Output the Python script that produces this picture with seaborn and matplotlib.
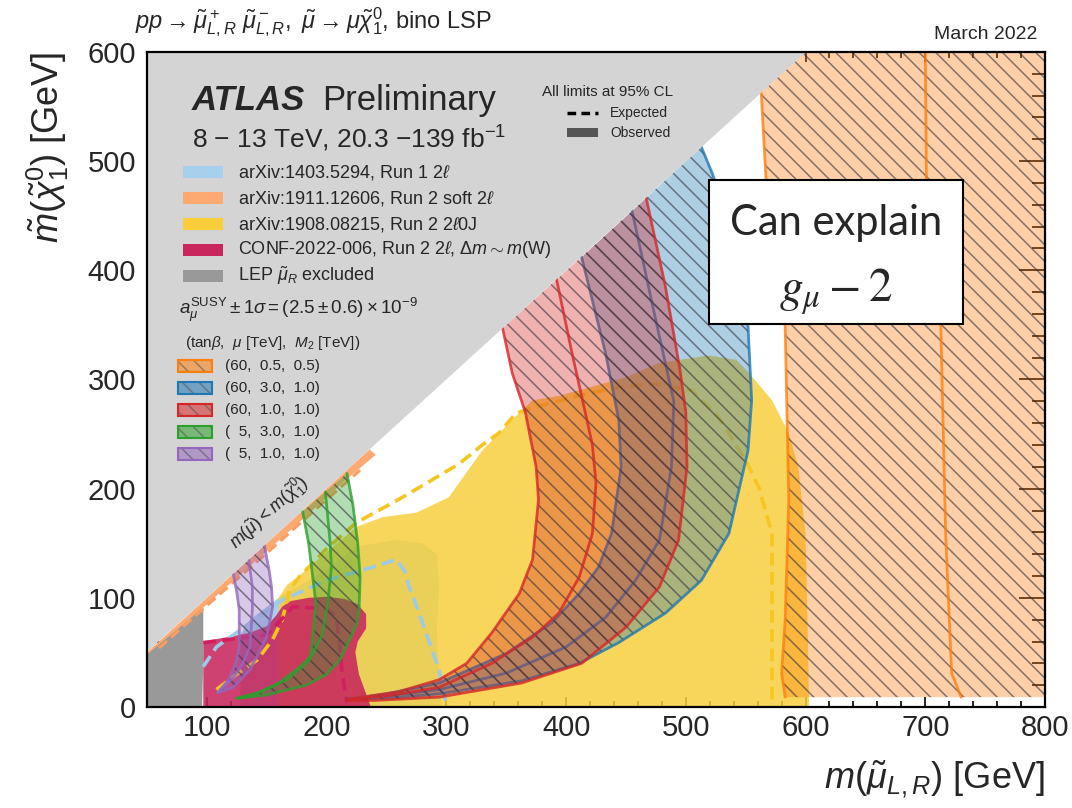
import matplotlib
matplotlib.use("Agg")
import matplotlib.pyplot as plt
import seaborn as sns
import pandas as pd
from matplotlib.patches import Rectangle
from matplotlib.lines import Line2D
from matplotlib.ticker import MultipleLocator

# contours in (m(smuon), m(neutralino)) GeV
diag = [(50, 50), (50, 600), (600, 600)]

lep_obs = [(50, 0), (50, 48), (97, 91), (97, 40), (96, 0)]

run1_obs = [(128, 0), (128, 66), (136, 80), (160, 100), (180, 113), (200, 126),
            (225, 147), (258, 153), (280, 150), (292, 140), (294, 110), (292, 70), (294, 30), (296, 0)]
run1_exp = [(97, 37), (108, 55), (136, 77), (163, 98), (200, 116), (238, 128), (258, 135),
            (265, 125), (269, 110), (276, 90), (283, 68), (294, 34), (297, 13), (300, 4)]

soft_obs = [(50, 50), (236, 236), (241, 231), (215, 207), (180, 172), (140, 133), (100, 94), (50, 45)]
soft_exp = [(60, 54), (100, 93), (150, 141), (200, 190), (228, 217)]

zl_obs = [(160, 0), (160, 100), (167, 112), (177, 120), (200, 142), (225, 165), (247, 174),
          (275, 178), (302, 192), (330, 235), (355, 263), (372, 281), (394, 285), (450, 302),
          (477, 315), (519, 322), (542, 318), (552, 307), (572, 281), (586, 251), (594, 220),
          (600, 159), (602, 60), (603, 0)]
zl_exp = [(108, 16), (125, 30), (142, 43), (155, 62), (163, 80), (169, 107), (177, 119),
          (200, 145), (225, 169), (260, 190), (288, 208), (311, 223), (330, 240), (344, 251),
          (358, 269), (372, 274), (410, 285), (444, 293), (475, 296), (505, 290), (527, 266),
          (550, 226), (561, 201), (572, 159), (572, 0)]

conf_obs = [(97, 0), (97, 60), (117, 64), (136, 68), (150, 74), (158, 84), (163, 92), (170, 97),
            (185, 100), (200, 101), (215, 99), (226, 94), (233, 85), (233, 72), (226, 60),
            (224, 50), (227, 30), (232, 15), (237, 0)]
conf_exp = [(97, 59), (127, 63), (150, 66), (163, 81), (172, 92), (200, 90), (208, 83),
            (211, 55), (213, 31), (217, 4)]

# g-2 favoured bands: inner edge, central value, outer edge
orange_lo = [(563, 563), (567, 483), (576, 410), (583, 348), (586, 190), (583, 80), (580, 31), (583, 9)]
orange_mid = [(700, 600), (701, 483), (713, 348), (717, 159), (722, 31), (730, 9)]
orange_hi = [(830, 9), (830, 600), (600, 600)]

blue_lo = [(413, 412), (433, 324), (444, 263), (446, 220), (438, 159), (427, 128), (411, 104),
           (388, 77), (350, 49), (294, 22), (250, 12), (217, 7)]
blue_mid = [(455, 455), (475, 354), (490, 280), (488, 220), (478, 153), (458, 116), (433, 82),
            (400, 55), (350, 31), (294, 16), (250, 10), (217, 7)]
blue_hi = [(513, 513), (522, 489), (535, 450), (545, 400), (552, 348), (555, 281), (552, 235),
           (536, 159), (513, 116), (483, 86), (444, 59), (411, 40), (363, 24), (294, 12),
           (250, 8), (217, 7)]

red_lo = [(347, 347), (355, 306), (366, 270), (375, 220), (377, 190), (372, 135), (361, 104),
          (338, 68), (317, 40), (294, 25), (260, 14), (217, 7)]
red_mid = [(392, 392), (405, 324), (416, 270), (422, 240), (425, 205), (422, 159), (411, 119),
           (394, 86), (372, 64), (338, 40), (294, 18), (250, 10), (217, 7)]
red_hi = [(467, 466), (483, 385), (495, 310), (500, 270), (501, 220), (494, 153), (478, 110),
          (450, 73), (413, 40), (363, 22), (294, 9), (240, 6), (217, 6)]

green_lo = [(180, 179), (185, 150), (188, 123), (191, 95), (188, 60), (186, 43), (167, 25),
            (145, 14), (125, 8)]
green_mid = [(199, 197), (203, 150), (204, 128), (201, 95), (196, 65), (188, 48), (178, 37),
             (160, 22), (137, 10), (125, 8)]
green_hi = [(217, 214), (222, 185), (226, 150), (228, 119), (227, 86), (225, 75), (211, 43),
            (200, 30), (183, 20), (150, 11), (125, 8)]

purple_lo = [(122, 122), (125, 105), (127, 89), (127, 55), (124, 40), (118, 25), (109, 13)]
purple_mid = [(135, 135), (138, 110), (138, 89), (136, 55), (130, 40), (122, 27), (109, 13)]
purple_hi = [(148, 148), (152, 125), (154, 110), (155, 92), (150, 64), (136, 34), (122, 18), (109, 13)]

obs_labels = ["arXiv:1403.5294, Run 1 2$\\ell$",
              "arXiv:1911.12606, Run 2 soft 2$\\ell$",
              "arXiv:1908.08215, Run 2 2$\\ell$0J",
              "CONF-2022-006, Run 2 2$\\ell$, $\\Delta m \\sim m$(W)",
              "LEP $\\tilde{\\mu}_R$ excluded"]
obs_colors = ["#a7d0ec", "#fca972", "#fcce3a", "#c8265c", "#999999"]

band_labels = ["(60,  0.5,  0.5)", "(60,  3.0,  1.0)", "(60,  1.0,  1.0)",
               "(  5,  3.0,  1.0)", "(  5,  1.0,  1.0)"]
band_colors = ["#ff7f0e", "#1f77b4", "#d62728", "#2ca02c", "#9467bd"]

W, H = 1072, 808


def fxy(px, py):
    return px / W, 1 - py / H


def area(ax, pts, color, alpha, z):
    xs, ys = zip(*pts)
    ax.fill(xs, ys, facecolor=color, edgecolor="none", alpha=alpha, zorder=z)


def line(ax, pts, color, lw, ls="-", alpha=1.0, z=4):
    df = pd.DataFrame(pts, columns=["x", "y"])
    sns.lineplot(data=df, x="x", y="y", sort=False, estimator=None, color=color,
                 linewidth=lw, linestyle=ls, alpha=alpha, ax=ax, zorder=z)


def band(ax, poly, lines, color, z):
    xs, ys = zip(*poly)
    ax.fill(xs, ys, facecolor=color, edgecolor="none", alpha=0.36, zorder=z)
    ax.fill(xs, ys, facecolor="none", edgecolor=(0.2, 0.2, 0.25, 0.6), hatch="\\\\",
            linewidth=0, zorder=z + 0.1)
    for pts in lines:
        line(ax, pts, color, 2.0, alpha=0.8, z=z + 0.2)


sns.set_theme(style="ticks")
plt.rcParams["font.family"] = ["Liberation Sans", "DejaVu Sans"]
plt.rcParams["mathtext.fontset"] = "custom"
plt.rcParams["mathtext.rm"] = "Liberation Sans"
plt.rcParams["mathtext.it"] = "Liberation Sans:italic"
plt.rcParams["mathtext.bf"] = "Liberation Sans:bold"
plt.rcParams["mathtext.sf"] = "Liberation Sans"
plt.rcParams["hatch.linewidth"] = 1.1

fig = plt.figure(figsize=(W / 100, H / 100), dpi=100)
ax = fig.add_axes([147 / W, 1 - 707 / H, 898 / W, 655 / H])

# observed limits
area(ax, run1_obs, "#a7d0ec", 1.0, 1)
area(ax, soft_obs, "#fca972", 1.0, 1.5)
area(ax, zl_obs, "#f7cf3e", 0.85, 2)
area(ax, conf_obs, "#c8265c", 0.88, 2.5)
area(ax, lep_obs, "#999999", 1.0, 3)

# expected limits
dash = (0, (3.5, 1.8))
line(ax, run1_exp, "#9ccbe9", 2.6, ls=dash)
line(ax, soft_exp, "#fc9d60", 2.2, ls=dash)
line(ax, zl_exp, "#f7c520", 2.6, ls=dash)
line(ax, conf_exp, "#d11f62", 2.6, ls=dash)

# g-2 bands
band(ax, orange_lo + orange_hi, [orange_lo, orange_mid], band_colors[0], 5)
band(ax, blue_lo + blue_hi[::-1], [blue_lo, blue_mid, blue_hi], band_colors[1], 5.3)
band(ax, red_lo + red_hi[::-1], [red_lo, red_mid, red_hi], band_colors[2], 5.6)
band(ax, green_lo + green_hi[::-1], [green_lo, green_mid, green_hi], band_colors[3], 5.9)
band(ax, purple_lo + purple_hi[::-1], [purple_lo, purple_mid, purple_hi], band_colors[4], 6.2)

# kinematically forbidden region
area(ax, diag, "#d4d4d4", 1.0, 9)
ax.text(152, 178, r"$m(\tilde{\mu}) < m(\tilde{\chi}^0_1)$", rotation=42,
        rotation_mode="anchor", ha="center", va="center", fontsize=13, zorder=10)

ax.set_xlim(50, 800)
ax.set_ylim(0, 600)
ax.xaxis.set_major_locator(MultipleLocator(100))
ax.xaxis.set_minor_locator(MultipleLocator(20))
ax.yaxis.set_major_locator(MultipleLocator(100))
ax.yaxis.set_minor_locator(MultipleLocator(20))
ax.tick_params(which="both", direction="in", top=True, right=True, color="black", width=1.2)
ax.tick_params(axis="x", which="major", length=7.5, labelsize=21, pad=5)
ax.tick_params(axis="x", which="minor", length=4)
ax.tick_params(axis="y", which="major", length=19, labelsize=21, pad=8)
ax.tick_params(axis="y", which="minor", length=9.5)
for sp in ax.spines.values():
    sp.set_linewidth(1.6)
    sp.set_color("black")
    sp.set_zorder(20)
ax.set_xlabel(r"$m(\tilde{\mu}_{L,R})$ [GeV]", fontsize=26, loc="right", labelpad=12)
ax.set_ylabel(r"$\tilde{m}(\tilde{\chi}^0_1)$ [GeV]", fontsize=26, loc="top", labelpad=12)

# header texts
fig.text(*fxy(135, 28), r"$pp \rightarrow \tilde{\mu}^+_{L,R}\ \tilde{\mu}^-_{L,R},\ \tilde{\mu} \rightarrow \mu\tilde{\chi}^0_1$, bino LSP",
         fontsize=17, va="baseline")
fig.text(*fxy(1037, 39), "March 2022", fontsize=14, ha="right", va="baseline")

fig.text(*fxy(192, 110), "ATLAS", fontsize=25, fontweight="bold", fontstyle="italic", va="baseline")
fig.text(*fxy(322, 110), "Preliminary", fontsize=25, va="baseline")
fig.text(*fxy(192, 148), r"8 $-$ 13 TeV, 20.3 $-$139 fb$^{-1}$", fontsize=19, va="baseline")

# legend of observed limits
for i, (lab, col) in enumerate(zip(obs_labels, obs_colors)):
    yc = 172 + i * 26
    x0, y0 = fxy(183, yc + 6)
    fig.add_artist(Rectangle((x0, y0), 40 / W, 12 / H, facecolor=col, edgecolor="none",
                             transform=fig.transFigure))
    fig.text(*fxy(238, yc), lab, fontsize=13, va="center")

fig.text(*fxy(179, 310), r"$a_\mu^{\rm SUSY} \pm 1\sigma = (2.5 \pm 0.6) \times 10^{-9}$",
         fontsize=13.5, va="center")
fig.text(*fxy(185, 343), r"(tan$\beta$,  $\mu$ [TeV],  $M_2$ [TeV])", fontsize=11, va="center")

for i, (lab, col) in enumerate(zip(band_labels, band_colors)):
    yc = 366 + i * 22
    x0, y0 = fxy(178, yc + 6)
    fig.add_artist(Rectangle((x0, y0), 34 / W, 12 / H, facecolor=col, alpha=0.55,
                             edgecolor="none", transform=fig.transFigure))
    fig.add_artist(Rectangle((x0, y0), 34 / W, 12 / H, facecolor="none", hatch="\\\\",
                             edgecolor=(0.3, 0.3, 0.3, 0.5), linewidth=0, transform=fig.transFigure))
    fig.add_artist(Rectangle((x0, y0), 34 / W, 12 / H, facecolor="none", edgecolor=col,
                             linewidth=1.5, transform=fig.transFigure))
    fig.text(*fxy(225, yc), lab, fontsize=11, va="center")

fig.text(*fxy(542, 92), "All limits at 95% CL", fontsize=11, va="center")
xa, ya = fxy(567, 113)
xb, _ = fxy(598, 113)
fig.add_artist(Line2D([xa, xb], [ya, ya], color="black", lw=2.5, ls=(0, (2.5, 1.5)),
                      transform=fig.transFigure))
fig.text(*fxy(610, 113), "Expected", fontsize=10, va="center")
x0, y0 = fxy(567, 137)
fig.add_artist(Rectangle((x0, y0), 31 / W, 9 / H, facecolor="#555555", edgecolor="none",
                         transform=fig.transFigure))
fig.text(*fxy(610, 133), "Observed", fontsize=10, va="center")

# annotation box
x0, y0 = fxy(709, 324)
fig.add_artist(Rectangle((x0, y0), 254 / W, 144 / H, facecolor="white", edgecolor="black",
                         linewidth=1.5, transform=fig.transFigure, zorder=5))
fig.text(*fxy(836, 235), "Can explain", family="Lato", fontsize=30, ha="center",
         va="baseline", zorder=6)
fig.text(*fxy(836, 302), r"$g_\mu - 2$", math_fontfamily="stix", fontsize=34, ha="center",
         va="baseline", zorder=6)

fig.savefig("out.png", dpi=100)
